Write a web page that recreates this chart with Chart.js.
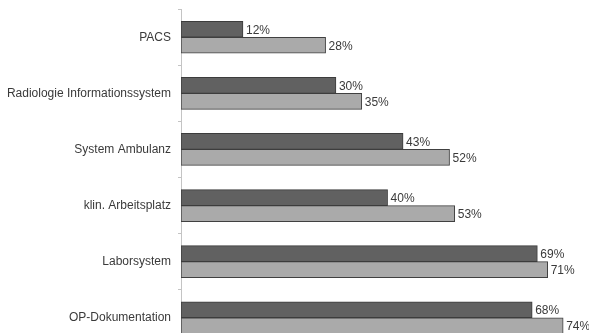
<!DOCTYPE html>
<html>
<head>
<meta charset="utf-8">
<script src="https://cdn.jsdelivr.net/npm/chart.js@4/dist/chart.umd.min.js"></script>
<style>
  html, body { margin: 0; padding: 0; background: #fff; }
  #wrap { width: 589px; height: 333px; overflow: hidden; position: relative; }
  canvas { display: block; position: absolute; left: 0; top: -5px; }
</style>
</head>
<body>
<div id="wrap"><canvas id="c" width="589" height="365"></canvas></div>
<script>
// Systems and their two survey shares (percent)
const categories = [
  'PACS',
  'Radiologie Informationssystem',
  'System Ambulanz',
  'klin. Arbeitsplatz',
  'Laborsystem',
  'OP-Dokumentation'
];
const seriesDark = [12, 30, 43, 40, 69, 68];
const seriesLight = [28, 35, 52, 53, 71, 74];

const textColor = '#3a3a3a';
const fontFamily = '"Liberation Sans", Arial, sans-serif';

// Writes "NN%" right of each bar end
const valueLabels = {
  id: 'valueLabels',
  afterDatasetsDraw(chart) {
    const ctx = chart.ctx;
    ctx.save();
    ctx.font = '12px ' + fontFamily;
    ctx.fillStyle = textColor;
    ctx.textAlign = 'left';
    ctx.textBaseline = 'middle';
    chart.data.datasets.forEach((ds, i) => {
      const meta = chart.getDatasetMeta(i);
      meta.data.forEach((bar, j) => {
        ctx.fillText(ds.data[j] + '%', bar.x + 3, bar.y + 1);
      });
    });
    ctx.restore();
  }
};

new Chart(document.getElementById('c'), {
  type: 'bar',
  data: {
    labels: categories,
    datasets: [
      {
        data: seriesDark,
        backgroundColor: '#616161',
        borderColor: '#3c3c3c',
        borderWidth: 1,
        borderSkipped: false,
        barThickness: 16
      },
      {
        data: seriesLight,
        backgroundColor: '#aaaaaa',
        borderColor: '#404040',
        borderWidth: 1,
        borderSkipped: false,
        barThickness: 16
      }
    ]
  },
  options: {
    indexAxis: 'y',
    responsive: false,
    animation: false,
    devicePixelRatio: 1,
    layout: { padding: 0 },
    plugins: {
      legend: { display: false },
      tooltip: { enabled: false }
    },
    scales: {
      x: {
        display: false,
        min: 0,
        max: 79
      },
      y: {
        afterFit(scale) { scale.width = 181; },
        border: { display: true, color: '#c4c4c4', width: 1 },
        grid: {
          offset: true,
          drawOnChartArea: false,
          drawTicks: true,
          tickLength: 3,
          color: '#c4c4c4'
        },
        ticks: {
          padding: 7,
          color: textColor,
          font: { family: fontFamily, size: 12 }
        }
      }
    }
  },
  plugins: [valueLabels]
});
</script>
</body>
</html>
